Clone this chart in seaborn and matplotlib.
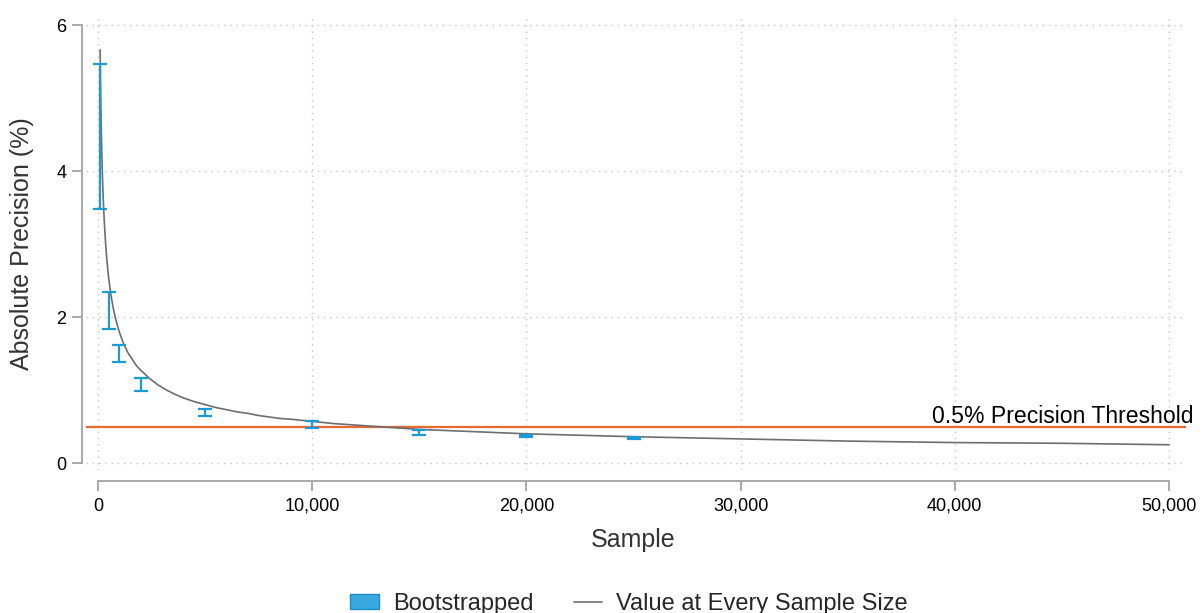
import matplotlib
matplotlib.use("Agg")
import matplotlib.pyplot as plt
from matplotlib.lines import Line2D
from matplotlib.patches import Patch
from matplotlib.ticker import FuncFormatter
import pandas as pd
import seaborn as sns

# Bootstrapped precision intervals by sample size
boot_n = [100, 500, 1000, 2000, 5000, 10000, 15000, 20000, 25000]
boot_low = [3.48, 1.84, 1.38, 0.99, 0.65, 0.475, 0.39, 0.35, 0.33]
boot_high = [5.47, 2.34, 1.62, 1.16, 0.74, 0.58, 0.45, 0.38, 0.35]

# Precision evaluated across sample sizes
curve_n = [100, 110, 120, 135, 150, 175, 200, 225, 250, 300, 350, 400, 450,
           500, 600, 700, 800, 900, 1000, 1200, 1400, 1600, 1800, 2000, 2400,
           2800, 3200, 3600, 4000, 4500, 5000, 5500, 6000, 6500, 7000, 7500,
           8000, 8500, 9000, 10000, 11000, 12500, 15000, 17500, 20000, 22500,
           25000, 30000, 35000, 40000, 45000, 50000]
curve_val = [5.66, 5.40, 5.17, 4.87, 4.62, 4.28, 4.00, 3.77, 3.58, 3.27, 3.03,
             2.83, 2.67, 2.53, 2.31, 2.14, 2.00, 1.89, 1.79, 1.63, 1.51, 1.42,
             1.33, 1.27, 1.16, 1.07, 1.00, 0.94, 0.89, 0.84, 0.80, 0.76, 0.73,
             0.70, 0.68, 0.65, 0.63, 0.61, 0.60, 0.57, 0.54, 0.51, 0.46, 0.43,
             0.40, 0.38, 0.36, 0.33, 0.30, 0.28, 0.27, 0.25]

threshold = 0.5
threshold_label = "0.5% Precision Threshold"
x_ticks = [0, 10000, 20000, 30000, 40000, 50000]
y_ticks = [0, 2, 4, 6]

BLUE = "#1a9ad6"
ORANGE = "#e8692d"
GREY = "#6e6e6e"
AXIS_GREY = "#a8a8a8"

sns.set_theme(style="white")
plt.rcParams["font.family"] = ["Liberation Sans", "DejaVu Sans"]

W, H = 1203, 613
fig = plt.figure(figsize=(W / 100, H / 100), dpi=100)
left, right, top, bottom = 86, 1186, 18, 470
ax = fig.add_axes([left / W, 1 - bottom / H, (right - left) / W, (bottom - top) / H])

# Grid drawn underneath everything
for xv in x_ticks:
    ax.axvline(xv, color="#c4c4c4", lw=1.0, ls=(0, (1, 3.5)), zorder=0)
for yv in y_ticks:
    ax.axhline(yv, color="#c4c4c4", lw=1.0, ls=(0, (1, 3.5)), zorder=0)

ax.axhline(threshold, color=ORANGE, lw=1.6, zorder=2)

curve_df = pd.DataFrame({"n": curve_n, "precision": curve_val})
sns.lineplot(data=curve_df, x="n", y="precision", color=GREY, lw=1.2,
             ax=ax, zorder=3, legend=False)

boot_df = pd.DataFrame({"n": boot_n, "low": boot_low, "high": boot_high})
mid = (boot_df["high"] + boot_df["low"]) / 2
half = (boot_df["high"] - boot_df["low"]) / 2
ax.errorbar(boot_df["n"], mid, yerr=half, fmt="none", ecolor=BLUE,
            elinewidth=1.6, capsize=5, capthick=1.6, zorder=4)

# Axis scaling: 0 -> 98 px, 50000 -> 1169 px; 0 -> 463 px, 6 -> 25 px
xs = (1169 - 98) / 50000
ax.set_xlim(-(98 - left) / xs, 50000 + (right - 1169) / xs)
ys = (463 - 25) / 6
ax.set_ylim(-(bottom - 463) / ys, 6 + (25 - top) / ys)

ax.set_xticks(x_ticks)
ax.set_yticks(y_ticks)
ax.xaxis.set_major_formatter(FuncFormatter(lambda v, p: f"{int(v):,}"))
ax.set_xlabel("")
ax.set_ylabel("")

for s in ["top", "right"]:
    ax.spines[s].set_visible(False)
ax.spines["left"].set_position(("outward", 3))
ax.spines["bottom"].set_position(("outward", 8))
ax.spines["left"].set_bounds(0, 6)
ax.spines["bottom"].set_bounds(0, 50000)
for s in ["left", "bottom"]:
    ax.spines[s].set_color(AXIS_GREY)
    ax.spines[s].set_linewidth(1.4)
ax.tick_params(axis="both", which="major", direction="out", length=7,
               width=1.4, color=AXIS_GREY, labelsize=13, labelcolor="black",
               left=True, bottom=True)
ax.tick_params(axis="y", pad=4)
ax.tick_params(axis="x", pad=5)
ax.grid(False)

fig.text(22 / W, 1 - 244 / H, "Absolute Precision (%)", rotation=90,
         ha="center", va="center", fontsize=18, color="#333333")
fig.text(633 / W, 1 - 540 / H, "Sample", ha="center", va="center",
         fontsize=18, color="#333333")
fig.text(1194 / W, 1 - 423 / H, threshold_label, ha="right",
         va="baseline", fontsize=16.6, color="black")

handles = [Patch(facecolor="#3aa8e0", edgecolor="#1a8cc6", lw=1.0),
           Line2D([0], [0], color=GREY, lw=1.2)]
fig.legend(handles, ["Bootstrapped", "Value at Every Sample Size"],
           loc="center", bbox_to_anchor=(629 / W, 1 - 604 / H), ncol=2,
           frameon=False, fontsize=17, handlelength=1.2, handleheight=0.6,
           columnspacing=1.7, handletextpad=0.6)

fig.savefig("out.png", dpi=100)
